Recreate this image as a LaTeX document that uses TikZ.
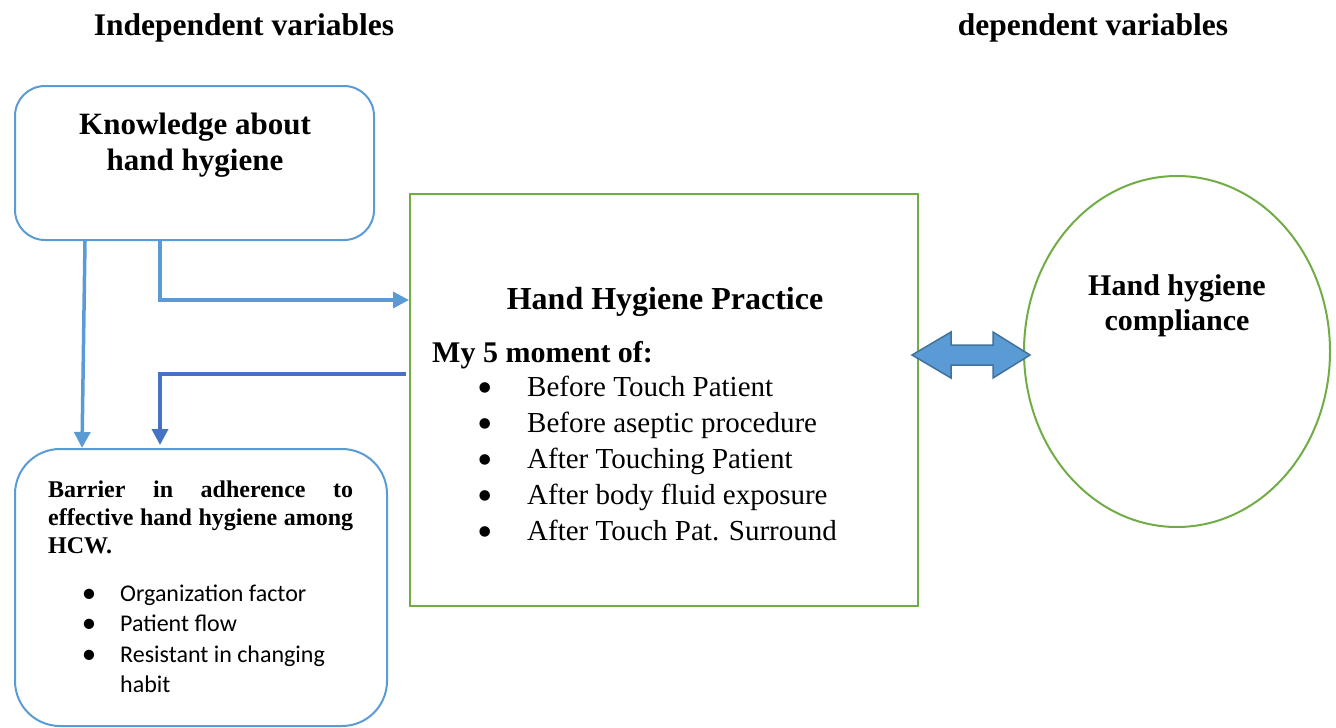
\documentclass[tikz,border=0pt]{standalone}
\usepackage{fontspec}
\setmainfont{Liberation Serif}
\newfontfamily\calib{Carlito}
\usetikzlibrary{arrows.meta,calc,shapes.geometric}
\definecolor{lblue}{HTML}{5B9BD5}
\definecolor{dblue}{HTML}{4472C4}
\definecolor{grn}{HTML}{70AD47}
\definecolor{aborder}{HTML}{41719C}
\newcommand{\bigbul}{\llap{\makebox[16pt]{\raisebox{-6pt}{\fontsize{44}{44}\selectfont•}}\hspace{34pt}}}
\newcommand{\smbul}{\llap{\makebox[12pt]{\raisebox{-1pt}{\fontsize{29}{29}\selectfont•}}\hspace{25pt}}}
\begin{document}
\begin{tikzpicture}[x=1pt,y=-1pt,
  rbox/.style={draw=lblue, line width=2pt, rounded corners=#1, inner sep=0pt},
  gbox/.style={draw=grn, line width=2pt, inner sep=0pt},
  arr/.style={line width=3.5pt, -{Triangle[length=16pt,width=16pt]}},
  ttl/.style={anchor=base, inner sep=0pt, font=\bfseries\fontsize{31.5}{36}\selectfont},
  big/.style={anchor=base, inner sep=0pt, font=\bfseries\fontsize{31}{36}\selectfont},
  item/.style={anchor=base west, inner sep=0pt, font=\fontsize{29}{36}\selectfont},
  bar/.style={anchor=base west, inner sep=0pt, font=\bfseries\fontsize{24}{28}\selectfont},
  citem/.style={anchor=base west, inner sep=0pt, font=\calib\fontsize{24}{30}\selectfont}
]
\useasboundingbox (0,0) rectangle (1336,728);

% titles
\node[ttl] (t1) at (244,35) {Independent variables};
\node[ttl] (t2) at (1093,35) {dependent variables};

% boxes
\node[rbox=30, minimum width=359, minimum height=154] (know) at (194.5,163) {};
\node[rbox=45, minimum width=372, minimum height=277] (bar) at (201,587.5) {};
\node[gbox, minimum width=508, minimum height=412] (prac) at (664,400) {};
\node[gbox, ellipse, minimum width=306, minimum height=351] (ell) at (1177,351.5) {};

% knowledge text
\node[big] (k1) at (195,134) {Knowledge about};
\node[big] (k2) at (195,170) {hand hygiene};

% practice text
\node[big, font=\bfseries\fontsize{32}{36}\selectfont] (p0) at (665,309) {Hand Hygiene Practice};
\node[item, font=\bfseries\fontsize{30}{36}\selectfont] (p1) at (432,362) {My 5 moment of:};
\foreach \t [count=\i from 0] in {Before Touch Patient,Before aseptic procedure,After Touching Patient,After body fluid exposure,After Touch Pat. Surround}{
  \node[item] (pi\i) at (527,396+36.2*\i) {\bigbul\t};
}

% compliance text
\node[big, font=\bfseries\fontsize{30}{36}\selectfont] (c1) at (1177,295) {Hand hygiene};
\node[big, font=\bfseries\fontsize{30}{36}\selectfont] (c2) at (1177,330) {compliance};

% barrier text
\node[bar] (b1) at (48,497) {\makebox[305pt][s]{Barrier in adherence to}};
\node[bar] (b2) at (48,525) {\makebox[305pt][s]{effective hand hygiene among}};
\node[bar] (b3) at (48,553) {HCW.};
\foreach \t/\yy [count=\i] in {Organization factor/601,Patient flow/631,Resistant in changing/662}{
  \node[citem] (bi\i) at (120,\yy) {\smbul\t};
}
\node[citem] (bi4) at (120,692) {habit};

% connectors
\draw[arr, lblue] ($(know.south west)+(71,0)$) -- ($(bar.north west)+(68,0)$);
\draw[arr, lblue] ($(know.south west)+(146,0)$) |- (prac.west |- 0,300);
\draw[arr, dblue, shorten >=3pt] ($(prac.west |- 0,374)+(-3,0)$) -| ($(bar.north west)+(146,0)$);

% double arrow
\filldraw[fill=lblue, draw=aborder, line width=1.5pt]
  (912,355) -- (951,332) -- (951,345) -- (993,345) -- (993,332) -- (1030,355)
  -- (993,378) -- (993,365) -- (951,365) -- (951,378) -- cycle;
\end{tikzpicture}
\end{document}
